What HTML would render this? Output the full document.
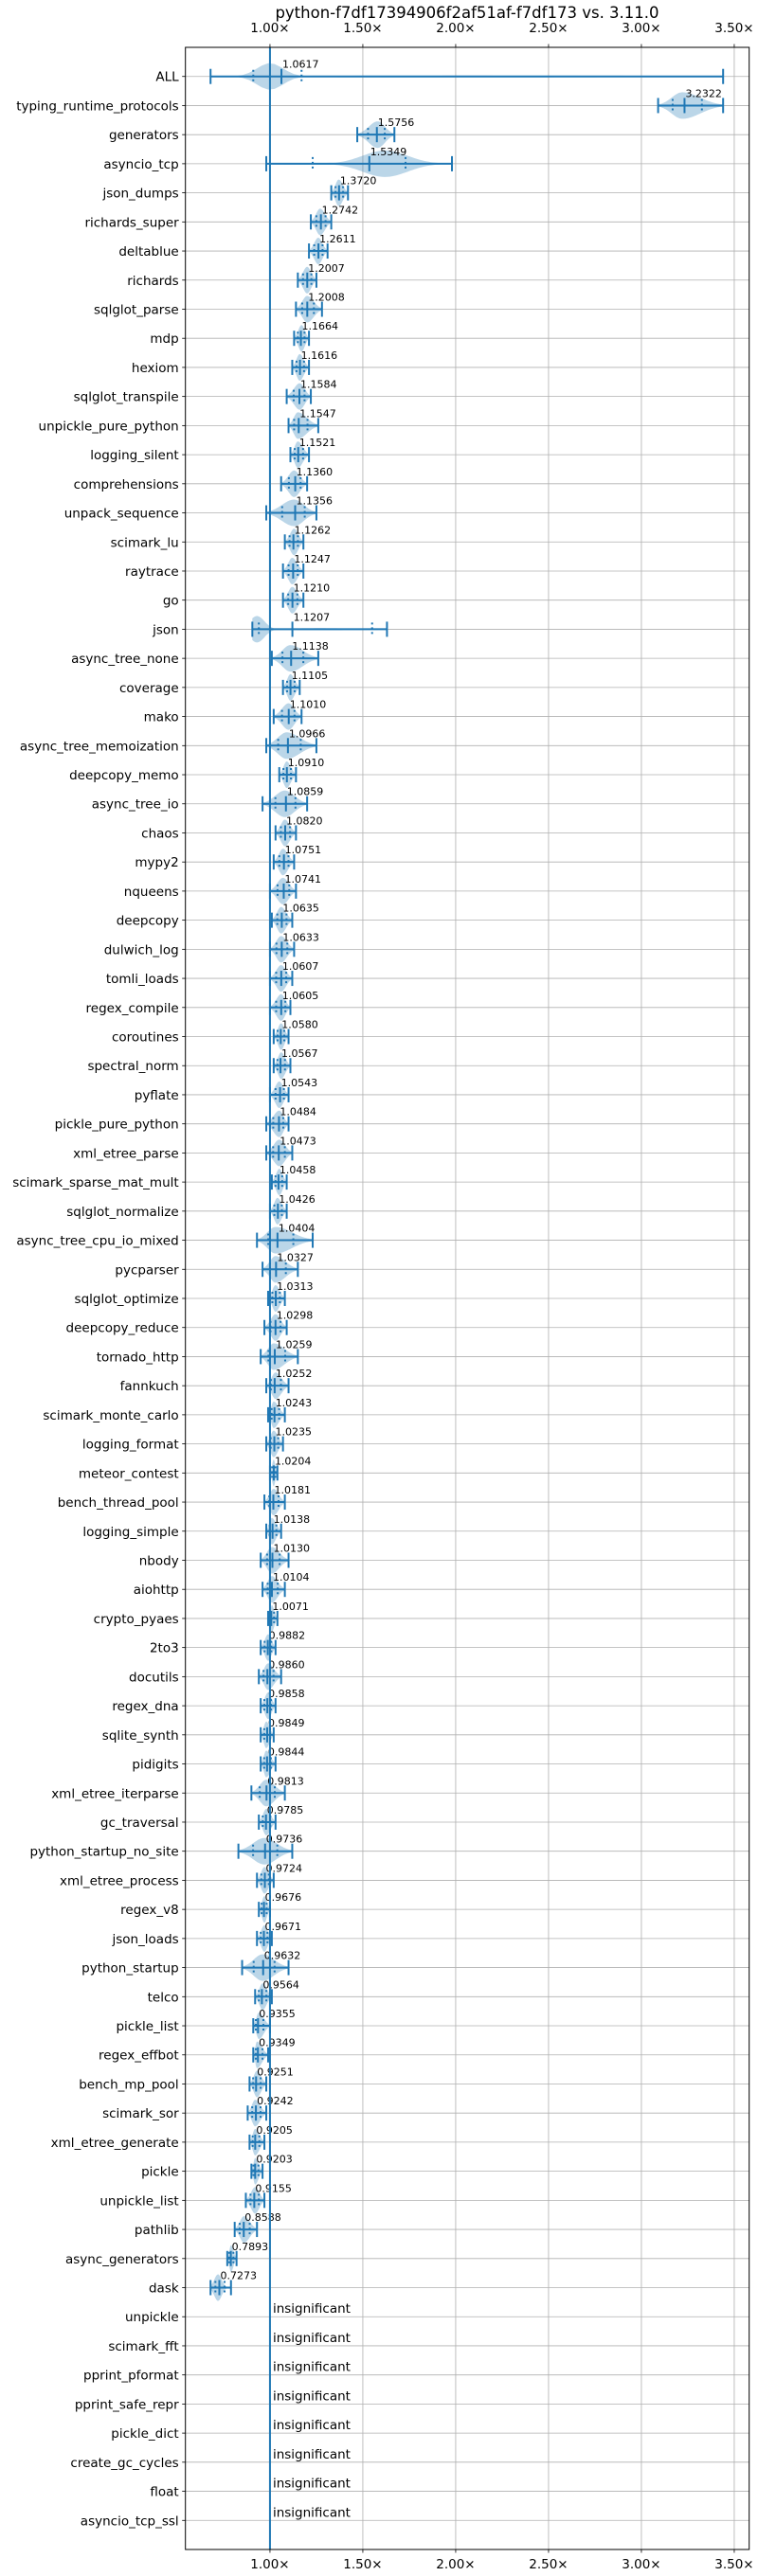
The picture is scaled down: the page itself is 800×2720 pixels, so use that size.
<!DOCTYPE html>
<html><head><meta charset="utf-8"><style>
html,body{margin:0;padding:0;background:#fff;}
svg{display:block;font-family:"DejaVu Sans","Liberation Sans",sans-serif;}
</style></head><body>
<svg id="chart" width="800" height="2720" viewBox="0 0 800 2720" xmlns="http://www.w3.org/2000/svg">
<text x="493" y="19" text-anchor="middle" font-size="16.5" fill="#000">python-f7df17394906f2af51af-f7df173 vs. 3.11.0</text>
<g id="grid"></g><g id="marks"></g><g id="axes"></g>
</svg>
<script>
const benchmarks = ["ALL","typing_runtime_protocols","generators","asyncio_tcp","json_dumps","richards_super","deltablue","richards","sqlglot_parse","mdp","hexiom","sqlglot_transpile","unpickle_pure_python","logging_silent","comprehensions","unpack_sequence","scimark_lu","raytrace","go","json","async_tree_none","coverage","mako","async_tree_memoization","deepcopy_memo","async_tree_io","chaos","mypy2","nqueens","deepcopy","dulwich_log","tomli_loads","regex_compile","coroutines","spectral_norm","pyflate","pickle_pure_python","xml_etree_parse","scimark_sparse_mat_mult","sqlglot_normalize","async_tree_cpu_io_mixed","pycparser","sqlglot_optimize","deepcopy_reduce","tornado_http","fannkuch","scimark_monte_carlo","logging_format","meteor_contest","bench_thread_pool","logging_simple","nbody","aiohttp","crypto_pyaes","2to3","docutils","regex_dna","sqlite_synth","pidigits","xml_etree_iterparse","gc_traversal","python_startup_no_site","xml_etree_process","regex_v8","json_loads","python_startup","telco","pickle_list","regex_effbot","bench_mp_pool","scimark_sor","xml_etree_generate","pickle","unpickle_list","pathlib","async_generators","dask","unpickle","scimark_fft","pprint_pformat","pprint_safe_repr","pickle_dict","create_gc_cycles","float","asyncio_tcp_ssl"];
const medians = [1.0617,3.2322,1.5756,1.5349,1.3720,1.2742,1.2611,1.2007,1.2008,1.1664,1.1616,1.1584,1.1547,1.1521,1.1360,1.1356,1.1262,1.1247,1.1210,1.1207,1.1138,1.1105,1.1010,1.0966,1.0910,1.0859,1.0820,1.0751,1.0741,1.0635,1.0633,1.0607,1.0605,1.0580,1.0567,1.0543,1.0484,1.0473,1.0458,1.0426,1.0404,1.0327,1.0313,1.0298,1.0259,1.0252,1.0243,1.0235,1.0204,1.0181,1.0138,1.0130,1.0104,1.0071,0.9882,0.9860,0.9858,0.9849,0.9844,0.9813,0.9785,0.9736,0.9724,0.9676,0.9671,0.9632,0.9564,0.9355,0.9349,0.9251,0.9242,0.9205,0.9203,0.9155,0.8588,0.7893,0.7273,null,null,null,null,null,null,null,null];
const mins = [0.68,3.09,1.47,0.98,1.33,1.22,1.21,1.15,1.14,1.13,1.12,1.09,1.10,1.11,1.06,0.98,1.08,1.07,1.07,0.905,1.01,1.07,1.02,0.98,1.05,0.96,1.03,1.02,1.00,1.01,1.00,1.00,1.00,1.02,1.02,1.00,0.98,0.98,1.01,1.00,0.93,0.96,0.99,0.97,0.95,0.98,0.99,0.98,1.00,0.97,0.98,0.95,0.96,0.99,0.95,0.94,0.95,0.95,0.95,0.90,0.94,0.83,0.93,0.94,0.93,0.85,0.92,0.91,0.91,0.89,0.88,0.89,0.90,0.87,0.81,0.77,0.68,null,null,null,null,null,null,null,null];
const maxs = [3.44,3.44,1.67,1.98,1.42,1.33,1.31,1.25,1.28,1.21,1.21,1.22,1.26,1.21,1.20,1.25,1.18,1.18,1.18,1.63,1.26,1.16,1.17,1.25,1.14,1.20,1.14,1.13,1.14,1.12,1.13,1.12,1.11,1.10,1.11,1.10,1.10,1.12,1.09,1.09,1.23,1.15,1.08,1.09,1.15,1.10,1.08,1.07,1.04,1.08,1.06,1.10,1.08,1.04,1.03,1.06,1.03,1.02,1.03,1.08,1.03,1.12,1.02,1.00,1.01,1.10,1.01,1.00,0.99,0.98,0.98,0.97,0.96,0.97,0.93,0.82,0.79,null,null,null,null,null,null,null,null];
const modes = [1.0,3.22,1.58,1.62,1.37,1.27,1.26,1.20,1.20,1.17,1.16,1.16,1.15,1.15,1.13,1.13,1.13,1.12,1.12,0.93,1.11,1.11,1.10,1.09,1.09,1.08,1.08,1.07,1.07,1.06,1.06,1.06,1.06,1.06,1.06,1.05,1.05,1.05,1.05,1.04,1.03,1.03,1.03,1.03,1.02,1.03,1.02,1.02,1.02,1.02,1.01,1.01,1.01,1.01,0.99,0.99,0.99,0.98,0.98,0.98,0.98,0.97,0.97,0.97,0.97,0.96,0.96,0.94,0.93,0.93,0.92,0.92,0.92,0.92,0.86,0.79,0.72,null,null,null,null,null,null,null,null];
const spreads = [0.07,null,null,0.12,null,null,null,null,null,null,null,null,null,null,null,null,null,null,null,0.04,null,null,null,null,null,null,null,null,null,null,null,null,null,null,null,null,null,null,null,null,null,null,null,null,null,null,null,null,null,null,null,null,null,null,null,null,null,null,null,null,null,null,null,null,null,null,null,null,null,null,null,null,null,null,null,null,0.02,null,null,null,null,null,null,null,null];
// explicit quartiles where they differ from the default estimate
const q1Special = {0:0.91, 3:1.23, 19:0.94};
const q3Special = {0:1.17, 3:1.73, 19:1.55};
const xTicks = [1.0,1.5,2.0,2.5,3.0,3.5];
const xTickLabels = ["1.00×","1.50×","2.00×","2.50×","3.00×","3.50×"];

const L=195.7,R=790.7,T=50,B=2692, X0=0.5447, X1=3.5804;
const x = v => L + (v - X0) / (X1 - X0) * (R - L);
const n = benchmarks.length;
const y = i => T + (B - T) * (i + 1) / (n + 1);
const NS="http://www.w3.org/2000/svg", BLUE="#1f77b4";
function mk(tag, attrs, parent){const e=document.createElementNS(NS,tag);for(const k in attrs)e.setAttribute(k,attrs[k]);parent.appendChild(e);return e;}
const grid=document.getElementById('grid'), marks=document.getElementById('marks'), axes=document.getElementById('axes');

xTicks.forEach((v,k)=>{
  const g=mk('line',{x1:x(v),x2:x(v),y1:T,y2:B,stroke:'#b0b0b0','stroke-width':0.8},grid);
  
  
  [[T,T-3.5,34],[B,B+3.5,2712]].forEach(([a,b,ty])=>{
    mk('line',{x1:x(v),x2:x(v),y1:a,y2:b,stroke:'#000','stroke-width':0.8},axes);
    const t=mk('text',{x:x(v),y:ty,'text-anchor':'middle','font-size':13.5,fill:'#000'},axes);
    t.textContent=xTickLabels[k];
    
    
  });
});
benchmarks.forEach((b,i)=>{
  const g=mk('line',{x1:L,x2:R,y1:y(i),y2:y(i),stroke:'#b0b0b0','stroke-width':0.8},grid);
  
  
  mk('line',{x1:L-3.5,x2:L,y1:y(i),y2:y(i),stroke:'#000','stroke-width':0.8},axes);
  const t=mk('text',{x:L-7,y:y(i)+5,'text-anchor':'end','font-size':13.5,fill:'#000'},axes);
  t.textContent=b;
  
  
});
const fr=mk('rect',{x:L,y:T,width:R-L,height:B-T,fill:'none',stroke:'#000','stroke-width':1},axes);



const HW=14;
benchmarks.forEach((b,i)=>{
  const cy=y(i), med=medians[i];
  if(med===null){
    const t=mk('text',{x:x(1)+3,y:cy-4,'font-size':13.5,fill:'#000'},marks);
    t.textContent='insignificant';
    
    
    return;
  }
  const lo=mins[i], hi=maxs[i], pk=modes[i];
  const sL = spreads[i]!==null ? spreads[i] : Math.max((pk-lo)/2.3,0.004);
  const sR = spreads[i]!==null ? spreads[i] : Math.max((hi-pk)/2.3,0.004);
  const tail = spreads[i]!==null ? 0.08 : 0;
  const N=80, top=[], bot=[];
  for(let k=0;k<=N;k++){
    const v=lo+(hi-lo)*k/N;
    const s=v<pk?sL:sR;
    let d=Math.exp(-0.5*((v-pk)/s)**2);
    if(tail && k>0 && k<N) d=Math.max(d,tail*(1-Math.abs(2*k/N-1)*0.5));
    top.push([x(v),cy-HW*d]); bot.push([x(v),cy+HW*d]);
  }
  const pts=top.concat(bot.reverse()).map(p=>p[0].toFixed(1)+','+p[1].toFixed(1)).join(' ');
  const vi=mk('polygon',{points:pts,fill:BLUE,'fill-opacity':0.3,stroke:'none'},marks);
  
  
  const bar=mk('line',{x1:x(lo),x2:x(hi),y1:cy,y2:cy,stroke:BLUE,'stroke-width':2},marks);
  
  
  [lo,hi,med].forEach(v=>{
    const c=mk('line',{x1:x(v),x2:x(v),y1:cy-8,y2:cy+8,stroke:BLUE,'stroke-width':2},marks);
    
    
  });
  const q1 = (i in q1Special) ? q1Special[i] : med-(med-lo)*0.45;
  const q3 = (i in q3Special) ? q3Special[i] : med+(hi-med)*0.45;
  [q1,q3].forEach(v=>{
    const q=mk('line',{x1:x(v),x2:x(v),y1:cy-7,y2:cy+7,stroke:BLUE,'stroke-width':2,'stroke-dasharray':'2,3'},marks);
    
    
  });
  const t=mk('text',{x:x(med)+1,y:cy-9,'font-size':11,fill:'#000'},marks);
  t.textContent=med.toFixed(4);
  
  
});
const ref=mk('line',{x1:x(1),x2:x(1),y1:T,y2:B,stroke:BLUE,'stroke-width':2},marks);


</script>
</body></html>
